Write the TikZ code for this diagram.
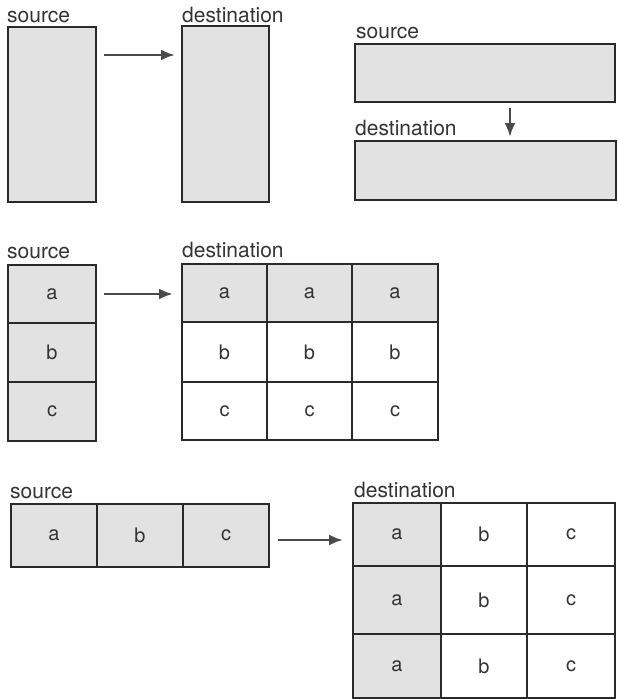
\documentclass[tikz,border=0pt]{standalone}
\usepackage{fontspec}
\setmainfont{TeX Gyre Heros}
\usetikzlibrary{arrows.meta}
\definecolor{shade}{HTML}{E2E2E2}
\definecolor{ink}{HTML}{2A2A2A}
\definecolor{txt}{HTML}{333333}
\definecolor{arrink}{HTML}{4A4A4A}
\begin{document}
\begin{tikzpicture}[x=1pt,y=-1pt,
  box/.style={draw=ink, line width=1.6pt, fill=shade, inner sep=0pt, outer sep=0pt, anchor=north west, text=txt, font=\fontsize{20}{23}\selectfont},
  wbox/.style={box, fill=white},
  lbl/.style={anchor=base west, inner sep=0pt, text=txt, font=\fontsize{21}{24}\selectfont},
  arr/.style={draw=arrink, line width=2.6pt, -{Latex[length=14pt,width=11pt]}}]
\useasboundingbox (0,0) rectangle (618,699);
% ---------- row 1 left ----------
\node[lbl] (ls1) at (7,22) {source};
\node[lbl] (ld1) at (182,22) {destination};
\node[box, minimum width=88pt, minimum height=175pt] (src1) at (8,27) {};
\node[box, minimum width=87pt, minimum height=176pt] (dst1) at (182,26) {};
\coordinate (y1) at (0,55);
\draw[arr, shorten <=8pt, shorten >=7pt] (src1.east |- y1) -- (dst1.west |- y1);
% ---------- row 1 right ----------
\node[lbl] (ls2) at (356,38) {source};
\node[lbl] (ld2) at (355,135) {destination};
\node[box, minimum width=260pt, minimum height=58pt] (src2) at (355,44) {};
\node[box, minimum width=261pt, minimum height=59pt] (dst2) at (355,141) {};
\coordinate (x2) at (510,0);
\draw[arr, shorten <=6pt, shorten >=4pt] (src2.south -| x2) -- (dst2.north -| x2);
% ---------- row 2 ----------
\node[lbl] (ls3) at (7,258) {source};
\node[lbl] (ld3) at (182,257) {destination};
\node[box, minimum width=88pt, minimum height=58pt] (s3a) at (8,265) {a};
\node[box, minimum width=88pt, minimum height=59pt] (s3b) at (8,323) {b};
\node[box, minimum width=88pt, minimum height=59pt] (s3c) at (8,382) {c};
\foreach \x/\w/\c in {182/85/1, 267/85/2, 352/86/3} {
  \node[box, minimum width=\w pt, minimum height=58pt] (d3a\c) at (\x,264) {a};
  \node[wbox, minimum width=\w pt, minimum height=60pt] (d3b\c) at (\x,322) {b};
  \node[wbox, minimum width=\w pt, minimum height=58pt] (d3c\c) at (\x,382) {c};
}
\draw[arr, shorten <=8pt, shorten >=9pt] (s3a.east) -- (d3a1.west |- s3a.east);
% ---------- row 3 ----------
\node[lbl] (ls4) at (10,498) {source};
\node[lbl] (ld4) at (354,497) {destination};
\node[box, minimum width=86pt, minimum height=63pt] (s4a) at (11,504) {a};
\node[box, minimum width=86pt, minimum height=63pt] (s4b) at (97,504) {b};
\node[box, minimum width=86pt, minimum height=63pt] (s4c) at (183,504) {c};
\foreach \y/\h/\r in {503/63/1, 566/68/2, 634/64/3} {
  \node[box, minimum width=88pt, minimum height=\h pt] (d4a\r) at (353,\y) {a};
  \node[wbox, minimum width=86pt, minimum height=\h pt] (d4b\r) at (441,\y) {b};
  \node[wbox, minimum width=88pt, minimum height=\h pt] (d4c\r) at (527,\y) {c};
}
\coordinate (y4) at (0,540);
\draw[arr, shorten <=9pt, shorten >=10pt] (s4c.east |- y4) -- (d4a1.west |- y4);
\end{tikzpicture}
\end{document}
